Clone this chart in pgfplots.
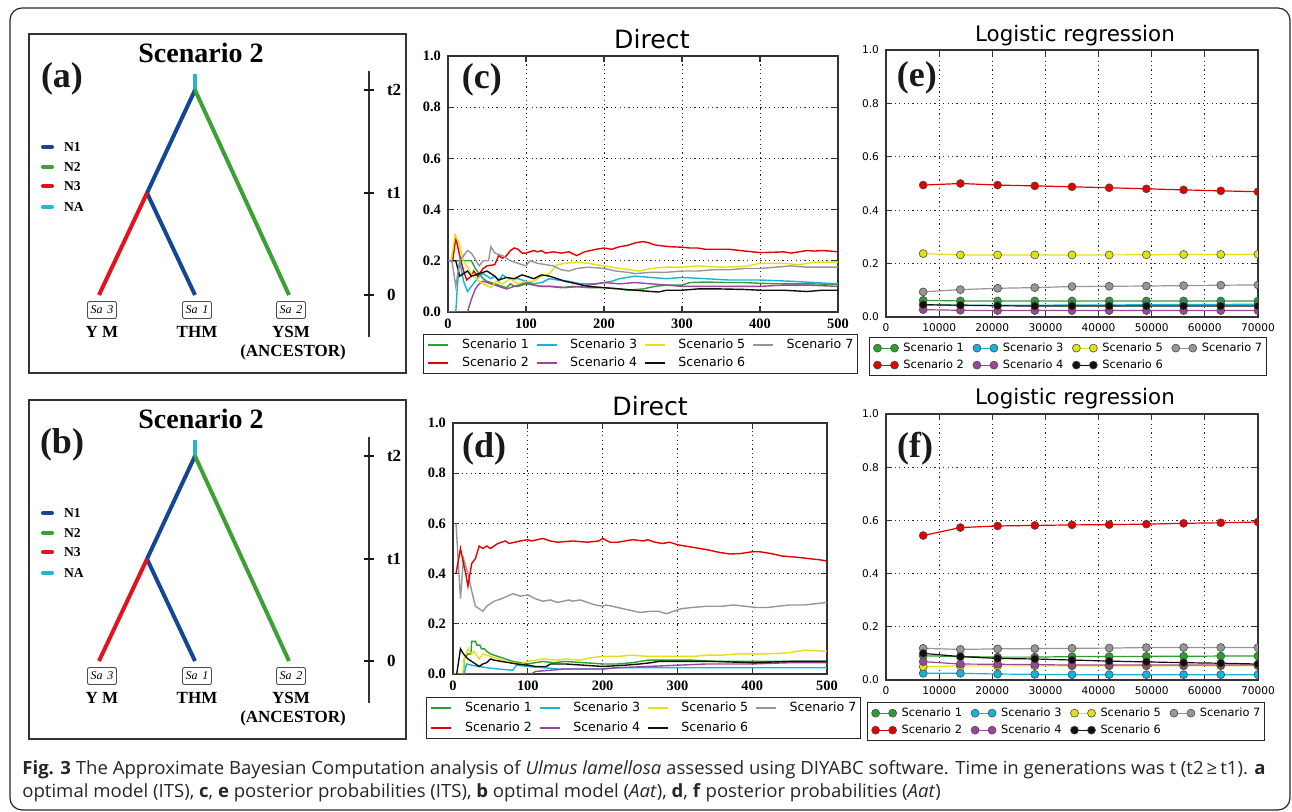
\documentclass[border=0pt]{standalone}
\usepackage{fontspec}
\setmainfont{Liberation Serif}
\newfontfamily\dejavu{DejaVu Sans}
\newfontfamily\capfont[FakeStretch=1.02]{Open Sans}
\usepackage{pgfplots}
\pgfplotsset{compat=1.18}

\definecolor{cA}{RGB}{44,160,44}
\definecolor{cB}{RGB}{228,0,0}
\definecolor{cC}{RGB}{23,178,216}
\definecolor{cD}{RGB}{155,70,155}
\definecolor{cE}{RGB}{228,224,20}
\definecolor{cF}{RGB}{20,15,10}
\definecolor{cG}{RGB}{150,150,150}
\definecolor{tN1}{RGB}{20,70,150}
\definecolor{tN2}{RGB}{60,160,50}
\definecolor{tN3}{RGB}{225,20,30}
\definecolor{tNA}{RGB}{40,180,210}

\tikzset{lab/.style={font=\fontsize{18}{18}\selectfont\bfseries, text=black!90},
  mo/.style={mark options={fill=#1, draw=black!70, line width=0.3pt}},
  sa/.style={draw=black!70, rounded corners=1pt, line width=0.45pt, minimum width=14.5pt, minimum height=8.5pt, inner sep=0.5pt, font=\fontsize{6}{7}\selectfont\itshape}}
\pgfplotsset{
  common/.style={scale only axis, anchor=south west, ymin=0, ymax=1,
    ytick={0,0.2,0.4,0.6,0.8,1}, grid=major,
    grid style={black!85, dash pattern=on 0.6pt off 1.6pt, line width=0.4pt},
    axis line style={black!80, line width=0.75pt},
    tick style={black!80, line width=0.6pt}, major tick length=3pt,
    every axis title shift=0pt,
    /pgf/number format/assume math mode=true,
    yticklabel style={/pgf/number format/.cd, fixed, fixed zerofill, precision=1},
    legend columns=4, legend cell align=left, clip=true},
  dir/.style={common, xmin=0, xmax=500, xtick={0,100,200,300,400,500},
    tick label style={font=\fontsize{7.2}{8}\selectfont\bfseries},
    title style={font=\dejavu\fontsize{12.6}{14}\selectfont, anchor=base},
    legend image code/.code={\draw[##1] (0pt,0pt) -- (10pt,0pt);},
    legend style={font=\dejavu\fontsize{6.3}{7}\selectfont, draw=black!85, line width=0.6pt,
      inner sep=2pt, nodes={inner sep=0pt, text height=5pt, text depth=1.5pt},
      /tikz/every odd column/.style={column sep=6.5pt},
      /tikz/every even column/.style={column sep=3.5pt}, anchor=north west}},
  lr/.style={common, xmin=0, xmax=70000, xtick={0,10000,20000,30000,40000,50000,60000,70000},
    scaled x ticks=false, xticklabel style={/pgf/number format/1000 sep={}},
    tick label style={font=\dejavu\fontsize{5.3}{6}\selectfont},
    title style={font=\dejavu\fontsize{10.7}{12}\selectfont, anchor=base},
    clip marker paths=true,
    legend image code/.code={\draw[##1] plot coordinates {(2pt,0pt) (10.5pt,0pt)};},
    legend style={font=\dejavu\fontsize{5.7}{6.5}\selectfont, draw=black!85, line width=0.6pt,
      inner sep=2pt, nodes={inner sep=0pt, text height=5pt, text depth=1.5pt}, row sep=2pt,
      /tikz/every odd column/.style={column sep=2.5pt},
      /tikz/every even column/.style={column sep=4.5pt}, anchor=north west},
    every axis plot/.append style={mark=*, mark size=2pt, line width=0.6pt}},
  tree/.style={scale only axis, anchor=south west, xmin=29, xmax=406, ymin=34, ymax=373,
    y dir=reverse, xtick=\empty, ytick=\empty, axis line style={black!80, line width=0.75pt},
    clip=false, width=188.5pt, height=169.5pt}
}

\newcommand{\treecontent}[1]{%
  \addplot[tNA, line width=2pt] coordinates {(195,74) (195,90)};
  \addplot[tN1, line width=2pt] coordinates {(195,90) (147,193) (195,295)};
  \addplot[tN3, line width=2pt] coordinates {(147,193) (99,295)};
  \addplot[tN2, line width=2pt] coordinates {(195,90) (289,295)};
  \addplot[tN1, line width=2pt, line cap=round] coordinates {(43,147) (52,147)};
  \addplot[tN2, line width=2pt, line cap=round] coordinates {(43,167) (52,167)};
  \addplot[tN3, line width=2pt, line cap=round] coordinates {(43,186) (52,186)};
  \addplot[tNA, line width=2pt, line cap=round] coordinates {(43,207) (52,207)};
  \addplot[black!80, line width=0.6pt] coordinates {(369,71) (369,337)};
  \addplot[black!90, line width=1pt] coordinates {(364,90) (374,90)};
  \addplot[black!90, line width=1pt] coordinates {(364,193) (374,193)};
  \addplot[black!90, line width=1pt] coordinates {(364,295) (374,295)};
  \node[font=\fontsize{14}{16}\selectfont\bfseries] at (axis cs:201,53) {Scenario 2};
  \node[lab] at (axis cs:62,79) {(#1)};
  \node[anchor=west, font=\fontsize{6.8}{7}\selectfont\bfseries] at (axis cs:57,147) {N1};
  \node[anchor=west, font=\fontsize{6.8}{7}\selectfont\bfseries] at (axis cs:57,167) {N2};
  \node[anchor=west, font=\fontsize{6.8}{7}\selectfont\bfseries] at (axis cs:57,186) {N3};
  \node[anchor=west, font=\fontsize{6.8}{7}\selectfont\bfseries] at (axis cs:57,207) {NA};
  \node[anchor=west, font=\fontsize{8.5}{9}\selectfont\bfseries] at (axis cs:380,90) {t2};
  \node[anchor=west, font=\fontsize{8.5}{9}\selectfont\bfseries] at (axis cs:380,193) {t1};
  \node[anchor=west, font=\fontsize{8.5}{9}\selectfont\bfseries] at (axis cs:380,295) {0};
  \node[sa] at (axis cs:102,310) {Sa\hspace{2.5pt}3};
  \node[sa] at (axis cs:197,310) {Sa\hspace{2.5pt}1};
  \node[sa] at (axis cs:291,310) {Sa\hspace{2.5pt}2};
  \node[font=\fontsize{8.5}{9}\selectfont\bfseries] at (axis cs:102,332) {Y M};
  \node[font=\fontsize{8.5}{9}\selectfont\bfseries] at (axis cs:197,332) {THM};
  \node[font=\fontsize{8.5}{9}\selectfont\bfseries] at (axis cs:291,332) {YSM};
  \node[font=\fontsize{8.5}{9}\selectfont\bfseries] at (axis cs:293,352) {(ANCESTOR)};
}

\begin{document}
\begin{tikzpicture}
\useasboundingbox (0,0) rectangle (646pt,406pt);
\draw[black!85, line width=0.6pt, rounded corners=6pt] (5pt,402pt) rectangle (645pt,1pt);

% (a)
\begin{axis}[tree, at={(14.5pt,219.5pt)}]
\treecontent{a}
\end{axis}
% (b)
\begin{axis}[tree, at={(14.5pt,36.5pt)}]
\treecontent{b}
\end{axis}

% (d)
\begin{axis}[dir, at={(226.5pt,69pt)}, width=187pt, height=125.5pt,
  title={Direct}, title style={at={(0.527,1)}, yshift=3.5pt},
  legend style={at={(-0.072,-0.092)}, row sep=3.5pt}]
\addplot[cA, line width=0.7pt] coordinates {(0,0)(14,0)(15,0.06)(20,0.08)(24,0.08)(25,0.13)(30,0.13)(32,0.115)(36,0.115)(38,0.1)(42,0.1)(45,0.09)(50,0.08)(55,0.075)(60,0.07)(70,0.06)(80,0.05)(90,0.045)(100,0.04)(110,0.045)(120,0.05)(135,0.045)(150,0.05)(175,0.045)(200,0.04)(220,0.04)(240,0.045)(260,0.055)(280,0.055)(300,0.055)(320,0.055)(350,0.05)(380,0.05)(400,0.05)(450,0.05)(500,0.05)};
\addlegendentry{Scenario 1}
\addplot[cC, line width=0.7pt] coordinates {(0,0)(15,0)(18,0.04)(25,0.035)(35,0.03)(45,0.025)(60,0.02)(80,0.015)(85,0.035)(100,0.03)(120,0.025)(140,0.02)(200,0.02)(220,0.025)(300,0.025)(400,0.025)(500,0.025)};
\addlegendentry{Scenario 3}
\addplot[cE, line width=0.7pt] coordinates {(0,0)(13,0)(15,0.06)(20,0.1)(25,0.08)(28,0.09)(35,0.06)(40,0.08)(50,0.07)(60,0.06)(70,0.05)(80,0.045)(90,0.04)(100,0.05)(110,0.055)(120,0.06)(140,0.055)(150,0.06)(170,0.055)(185,0.065)(200,0.07)(220,0.07)(240,0.075)(260,0.07)(280,0.07)(300,0.07)(320,0.07)(340,0.075)(360,0.075)(380,0.08)(400,0.08)(420,0.08)(450,0.085)(460,0.09)(470,0.095)(500,0.09)};
\addlegendentry{Scenario 5}
\addplot[cG, line width=0.7pt] coordinates {(4,0.6)(10,0.3)(14,0.46)(20,0.4)(25,0.33)(30,0.27)(35,0.26)(40,0.25)(45,0.27)(55,0.29)(65,0.3)(80,0.32)(90,0.31)(100,0.315)(110,0.3)(120,0.29)(130,0.295)(140,0.285)(155,0.295)(160,0.29)(170,0.295)(180,0.285)(190,0.275)(200,0.27)(205,0.275)(220,0.265)(235,0.255)(250,0.245)(265,0.25)(275,0.25)(285,0.24)(295,0.25)(305,0.26)(320,0.265)(340,0.27)(360,0.27)(375,0.275)(390,0.27)(405,0.265)(420,0.265)(435,0.27)(450,0.275)(470,0.275)(485,0.28)(500,0.285)};
\addlegendentry{Scenario 7}
\addplot[cB, line width=0.7pt] coordinates {(4,0.4)(10,0.5)(14,0.44)(17,0.4)(20,0.35)(25,0.44)(30,0.46)(35,0.51)(40,0.5)(45,0.51)(50,0.5)(60,0.52)(70,0.53)(75,0.52)(90,0.53)(100,0.535)(105,0.53)(120,0.54)(130,0.53)(140,0.525)(160,0.53)(180,0.525)(195,0.53)(200,0.54)(210,0.525)(220,0.525)(240,0.535)(255,0.53)(260,0.535)(270,0.525)(280,0.52)(290,0.525)(300,0.515)(320,0.505)(340,0.495)(355,0.485)(370,0.478)(385,0.48)(400,0.487)(410,0.487)(425,0.48)(440,0.47)(460,0.465)(475,0.46)(490,0.455)(500,0.45)};
\addlegendentry{Scenario 2}
\addplot[cD, line width=0.7pt] coordinates {(0,0)(105,0)(110,0.01)(130,0.015)(150,0.02)(200,0.02)(220,0.025)(260,0.03)(300,0.035)(340,0.04)(400,0.04)(450,0.045)(500,0.045)};
\addlegendentry{Scenario 4}
\addplot[cF, line width=0.7pt] coordinates {(5,0)(10,0.1)(14,0.08)(20,0.06)(25,0.05)(30,0.04)(35,0.03)(40,0.04)(45,0.045)(50,0.06)(55,0.055)(65,0.05)(75,0.045)(85,0.04)(100,0.035)(110,0.03)(125,0.03)(130,0.04)(150,0.04)(175,0.035)(200,0.03)(230,0.035)(250,0.04)(265,0.045)(275,0.05)(300,0.05)(350,0.05)(400,0.045)(450,0.05)(500,0.05)};
\addlegendentry{Scenario 6}
\node[lab] at (rel axis cs:0.083,0.896) {(d)};
\end{axis}

% (c)
\begin{axis}[dir, at={(224pt,250pt)}, width=195pt, height=128pt,
  title={Direct}, title style={at={(0.523,1)}, yshift=3.5pt},
  legend style={at={(-0.064,-0.086)}, row sep=2.5pt}]
\addplot[cA, line width=0.7pt, forget plot] coordinates {(2,0.2)(30,0.2)(35,0.17)(40,0.15)(45,0.13)(50,0.12)(55,0.115)(60,0.11)(65,0.105)(70,0.1)(75,0.095)(80,0.11)(85,0.1)(90,0.1)(100,0.11)(110,0.105)(120,0.1)(130,0.1)(145,0.095)(160,0.1)(180,0.095)(200,0.095)(220,0.09)(230,0.085)(250,0.09)(265,0.1)(280,0.105)(300,0.105)(310,0.115)(330,0.117)(360,0.115)(380,0.115)(400,0.112)(430,0.11)(460,0.11)(500,0.108)};
\addplot[cB, line width=0.7pt, forget plot] coordinates {(6,0.2)(10,0.29)(15,0.22)(20,0.16)(24,0.125)(30,0.14)(33,0.16)(38,0.14)(45,0.17)(50,0.18)(60,0.185)(65,0.22)(70,0.21)(75,0.22)(80,0.24)(85,0.25)(90,0.245)(95,0.23)(100,0.23)(105,0.235)(110,0.24)(115,0.235)(120,0.24)(125,0.23)(135,0.235)(145,0.23)(155,0.235)(165,0.22)(175,0.235)(190,0.245)(200,0.25)(210,0.245)(220,0.255)(230,0.26)(240,0.27)(250,0.275)(258,0.27)(265,0.262)(275,0.258)(285,0.255)(300,0.253)(310,0.25)(320,0.25)(330,0.245)(345,0.245)(360,0.245)(375,0.24)(390,0.235)(400,0.232)(415,0.233)(430,0.235)(440,0.23)(450,0.235)(460,0.24)(470,0.238)(480,0.24)(490,0.238)(500,0.235)};
\addplot[cC, line width=0.7pt, forget plot] coordinates {(0,0)(10,0)(12,0.1)(15,0.2)(20,0.12)(25,0.08)(30,0.1)(35,0.12)(40,0.14)(45,0.15)(50,0.14)(55,0.13)(60,0.14)(65,0.12)(70,0.145)(75,0.135)(80,0.13)(90,0.13)(100,0.12)(110,0.11)(120,0.115)(130,0.13)(140,0.125)(155,0.12)(170,0.11)(190,0.11)(200,0.115)(210,0.12)(220,0.13)(240,0.14)(260,0.135)(280,0.13)(300,0.135)(330,0.13)(360,0.125)(400,0.125)(440,0.12)(470,0.115)(500,0.11)};
\addplot[cD, line width=0.7pt, forget plot] coordinates {(0,0)(25,0)(30,0.05)(35,0.09)(40,0.11)(45,0.12)(55,0.11)(65,0.1)(75,0.09)(85,0.1)(95,0.11)(100,0.115)(110,0.105)(120,0.1)(135,0.1)(150,0.095)(170,0.1)(190,0.11)(200,0.115)(220,0.11)(240,0.115)(260,0.11)(280,0.105)(300,0.1)(330,0.1)(360,0.1)(400,0.1)(430,0.105)(460,0.105)(500,0.1)};
\addplot[cE, line width=0.7pt, forget plot] coordinates {(4,0.2)(9,0.3)(14,0.27)(20,0.2)(30,0.15)(40,0.12)(45,0.11)(55,0.095)(62,0.12)(70,0.11)(80,0.13)(90,0.11)(100,0.12)(110,0.12)(120,0.14)(130,0.15)(140,0.185)(150,0.19)(165,0.195)(180,0.19)(200,0.18)(220,0.17)(245,0.16)(260,0.17)(280,0.175)(300,0.175)(320,0.18)(350,0.175)(380,0.178)(400,0.19)(430,0.19)(450,0.185)(470,0.195)(500,0.195)};
\addplot[cF, line width=0.7pt, forget plot] coordinates {(0,0.2)(10,0.2)(15,0.14)(25,0.16)(30,0.14)(40,0.15)(50,0.16)(60,0.14)(65,0.125)(75,0.135)(85,0.13)(95,0.145)(105,0.135)(110,0.13)(120,0.145)(130,0.14)(140,0.13)(150,0.12)(165,0.11)(180,0.1)(200,0.095)(220,0.09)(240,0.085)(260,0.08)(270,0.078)(280,0.085)(300,0.085)(320,0.09)(350,0.09)(380,0.088)(400,0.085)(430,0.085)(460,0.08)(480,0.085)(500,0.085)};
\addplot[cG, line width=0.7pt, forget plot] coordinates {(0,0.2)(5,0.2)(10,0.1)(15,0.2)(25,0.24)(30,0.23)(40,0.18)(45,0.2)(52,0.2)(55,0.255)(60,0.23)(70,0.22)(80,0.2)(90,0.19)(100,0.18)(105,0.2)(115,0.19)(125,0.185)(135,0.18)(145,0.165)(155,0.16)(165,0.17)(180,0.175)(200,0.17)(215,0.16)(230,0.155)(240,0.15)(260,0.155)(280,0.155)(300,0.16)(320,0.16)(340,0.165)(360,0.165)(380,0.17)(400,0.17)(420,0.175)(440,0.18)(460,0.175)(480,0.175)(500,0.175)};
\addlegendimage{cA, line width=0.7pt}
\addlegendentry{Scenario 1}
\addlegendimage{cC, line width=0.7pt}
\addlegendentry{Scenario 3}
\addlegendimage{cE, line width=0.7pt}
\addlegendentry{Scenario 5}
\addlegendimage{cG, line width=0.7pt}
\addlegendentry{Scenario 7}
\addlegendimage{cB, line width=0.7pt}
\addlegendentry{Scenario 2}
\addlegendimage{cD, line width=0.7pt}
\addlegendentry{Scenario 4}
\addlegendimage{cF, line width=0.7pt}
\addlegendentry{Scenario 6}
\node[lab] at (rel axis cs:0.087,0.906) {(c)};
\end{axis}

% (e)
\begin{axis}[lr, at={(443pt,247.5pt)}, width=186pt, height=133.5pt,
  title={Logistic regression}, title style={at={(0.508,1)}, yshift=4pt},
  legend style={at={(-0.046,-0.075)}}]
\addplot[cA, mo=cA] coordinates {(7000,0.0625)(14000,0.06)(21000,0.06)(28000,0.06)(35000,0.06)(42000,0.06)(49000,0.06)(56000,0.06)(63000,0.06)(70000,0.06)};
\addlegendentry{Scenario 1}
\addplot[cC, mo=cC] coordinates {(7000,0.045)(14000,0.044)(21000,0.044)(28000,0.044)(35000,0.045)(42000,0.045)(49000,0.046)(56000,0.047)(63000,0.047)(70000,0.048)};
\addlegendentry{Scenario 3}
\addplot[cE, mo=cE] coordinates {(7000,0.2375)(14000,0.2325)(21000,0.2325)(28000,0.2325)(35000,0.2325)(42000,0.2325)(49000,0.233)(56000,0.234)(63000,0.234)(70000,0.235)};
\addlegendentry{Scenario 5}
\addplot[cG, mo=cG] coordinates {(7000,0.094)(14000,0.1025)(21000,0.1075)(28000,0.11)(35000,0.114)(42000,0.115)(49000,0.116)(56000,0.1175)(63000,0.119)(70000,0.12)};
\addlegendentry{Scenario 7}
\addplot[cB, mo=cB] coordinates {(7000,0.494)(14000,0.5)(21000,0.494)(28000,0.491)(35000,0.4875)(42000,0.484)(49000,0.48)(56000,0.476)(63000,0.4725)(70000,0.469)};
\addlegendentry{Scenario 2}
\addplot[cD, mo=cD] coordinates {(7000,0.0275)(14000,0.025)(21000,0.024)(28000,0.024)(35000,0.024)(42000,0.024)(49000,0.024)(56000,0.024)(63000,0.024)(70000,0.024)};
\addlegendentry{Scenario 4}
\addplot[cF, mo=cF] coordinates {(7000,0.046)(14000,0.044)(21000,0.042)(28000,0.041)(35000,0.041)(42000,0.041)(49000,0.041)(56000,0.041)(63000,0.041)(70000,0.041)};
\addlegendentry{Scenario 6}
\node[lab] at (rel axis cs:0.083,0.895) {(e)};
\end{axis}

% (f)
\begin{axis}[lr, at={(443pt,66pt)}, width=186pt, height=133pt,
  title={Logistic regression}, title style={at={(0.508,1)}, yshift=4.5pt},
  legend style={at={(-0.051,-0.083)}}]
\addplot[cA, mo=cA] coordinates {(7000,0.091)(14000,0.088)(21000,0.086)(28000,0.086)(35000,0.088)(42000,0.088)(49000,0.089)(56000,0.089)(63000,0.09)(70000,0.09)};
\addlegendentry{Scenario 1}
\addplot[cC, mo=cC] coordinates {(7000,0.025)(14000,0.025)(21000,0.0225)(28000,0.021)(35000,0.02)(42000,0.02)(49000,0.02)(56000,0.02)(63000,0.02)(70000,0.02)};
\addlegendentry{Scenario 3}
\addplot[cE, mo=cE] coordinates {(7000,0.05)(14000,0.053)(21000,0.053)(28000,0.053)(35000,0.053)(42000,0.053)(49000,0.053)(56000,0.053)(63000,0.053)(70000,0.053)};
\addlegendentry{Scenario 5}
\addplot[cG, mo=cG] coordinates {(7000,0.119)(14000,0.115)(21000,0.117)(28000,0.118)(35000,0.119)(42000,0.12)(49000,0.122)(56000,0.122)(63000,0.122)(70000,0.122)};
\addlegendentry{Scenario 7}
\addplot[cB, mo=cB] coordinates {(7000,0.543)(14000,0.573)(21000,0.579)(28000,0.581)(35000,0.583)(42000,0.584)(49000,0.586)(56000,0.589)(63000,0.591)(70000,0.594)};
\addlegendentry{Scenario 2}
\addplot[cD, mo=cD] coordinates {(7000,0.069)(14000,0.06)(21000,0.059)(28000,0.058)(35000,0.056)(42000,0.056)(49000,0.056)(56000,0.056)(63000,0.056)(70000,0.056)};
\addlegendentry{Scenario 4}
\addplot[cF, mo=cF] coordinates {(7000,0.1)(14000,0.088)(21000,0.081)(28000,0.079)(35000,0.075)(42000,0.071)(49000,0.068)(56000,0.065)(63000,0.063)(70000,0.06)};
\addlegendentry{Scenario 6}
\node[lab] at (rel axis cs:0.078,0.87) {(f)};
\end{axis}

% caption
\node[anchor=base west, font=\capfont\fontsize{9.1}{11}\selectfont, text=black!85, inner sep=0pt] at (11pt,18.5pt) {\textbf{Fig. 3} The Approximate Bayesian Computation analysis of \textit{Ulmus lamellosa} assessed using DIYABC software. Time in generations was t (t2\,≥\,t1). \textbf{a}};
\node[anchor=base west, font=\capfont\fontsize{9.1}{11}\selectfont, text=black!85, inner sep=0pt] at (11pt,7pt) {optimal model (ITS), \textbf{c}, \textbf{e} posterior probabilities (ITS), \textbf{b} optimal model (\textit{Aat}), \textbf{d}, \textbf{f} posterior probabilities (\textit{Aat})};
\end{tikzpicture}
\end{document}
